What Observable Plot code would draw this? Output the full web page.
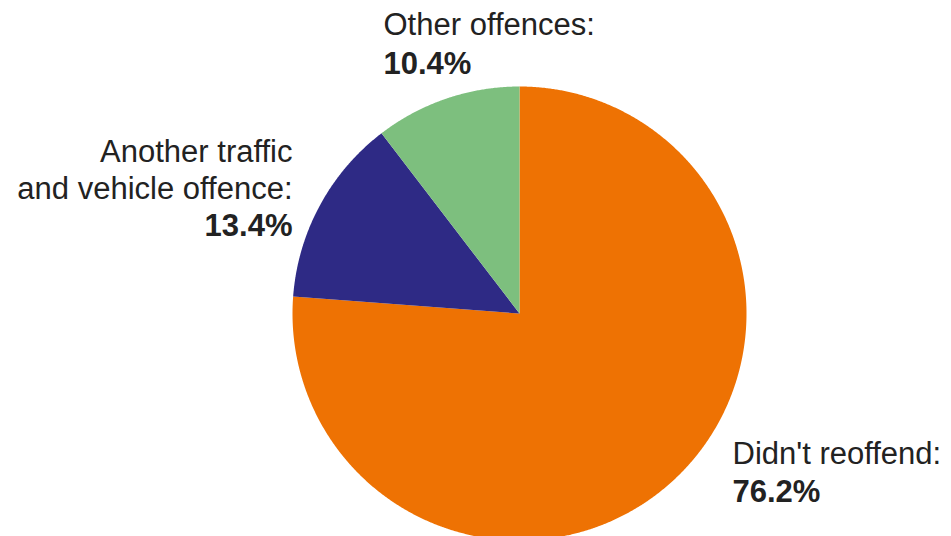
<!DOCTYPE html>
<html>
<head>
<meta charset="utf-8">
<script src="https://cdn.jsdelivr.net/npm/d3@7"></script>
<script src="https://cdn.jsdelivr.net/npm/@observablehq/plot@0.6"></script>
<style>
  html, body { margin: 0; padding: 0; background: #fff; }
  #chart { width: 951px; height: 536px; }
</style>
</head>
<body>
<div id="chart"></div>
<script>
const categories = ["Didn't reoffend", "Another traffic and vehicle offence", "Other offences"];
const labelLines = [["Didn't reoffend:"], ["Another traffic", "and vehicle offence:"], ["Other offences:"]];
const values = [76.2, 13.4, 10.4];
const colors = ["#EE7203", "#2E2A85", "#7DBF7E"];

const W = 951, H = 536;
const cx = 519, cy = 313, R = 227;
// data coordinates: unit circle radius 1
const toX = px => (px - cx) / R;
const toY = py => (cy - py) / R;

const pie = d3.pie().sort(null).value(d => d)(values);

// polygon points for each slice (angle 0 = 12 o'clock, clockwise)
const slicePts = [];
pie.forEach((a, i) => {
  const n = Math.max(8, Math.ceil((a.endAngle - a.startAngle) / 0.005));
  slicePts.push({cat: categories[i], x: 0, y: 0});
  for (let k = 0; k <= n; k++) {
    const t = a.startAngle + (a.endAngle - a.startAngle) * k / n;
    slicePts.push({cat: categories[i], x: Math.sin(t), y: Math.cos(t)});
  }
  slicePts.push({cat: categories[i], x: 0, y: 0});
});

// label placement derived from slice geometry
const ang = pie.map(a => ({s: a.startAngle, e: a.endAngle}));
const edgeX = t => cx + R * Math.sin(t);
const labels = [];
const pct = v => v.toFixed(1) + "%";
// Other offences: left-aligned at start of green slice, above the pie
labels.push({text: labelLines[2][0], px: edgeX(ang[2].s) + 2, py: 25, bold: false, anchor: "start"});
labels.push({text: pct(values[2]), px: edgeX(ang[2].s) + 2, py: 64, bold: true, anchor: "start"});
// Another traffic: right-aligned to the left of the pie
const bx = cx - R - 227 + 272; // right edge near 292
labels.push({text: labelLines[1][0], px: 292, py: 152, bold: false, anchor: "end"});
labels.push({text: labelLines[1][1], px: 292, py: 189, bold: false, anchor: "end"});
labels.push({text: pct(values[1]), px: 292, py: 226, bold: true, anchor: "end"});
// Didn't reoffend: left-aligned bottom right
labels.push({text: labelLines[0][0], px: 732, py: 454, bold: false, anchor: "start"});
labels.push({text: pct(values[0]), px: 732, py: 492, bold: true, anchor: "start"});
labels.forEach(d => { d.x = toX(d.px); d.y = toY(d.py); });

const plot = Plot.plot({
  width: W,
  height: H,
  margin: 0,
  x: {domain: [toX(0), toX(W)], axis: null},
  y: {domain: [toY(H), toY(0)], axis: null},
  color: {domain: categories, range: colors},
  style: {fontFamily: "'Liberation Sans', Arial, sans-serif", background: "#fff"},
  marks: [
    Plot.line(slicePts, {x: "x", y: "y", z: "cat", fill: "cat", stroke: "none", curve: "linear"}),
    Plot.text(labels.filter(d => !d.bold && d.anchor === "start"), {x: "x", y: "y", text: "text", textAnchor: "start", fontSize: 31, fill: "#222"}),
    Plot.text(labels.filter(d => !d.bold && d.anchor === "end"), {x: "x", y: "y", text: "text", textAnchor: "end", fontSize: 31, fill: "#222"}),
    Plot.text(labels.filter(d => d.bold && d.anchor === "start"), {x: "x", y: "y", text: "text", textAnchor: "start", fontSize: 31, fontWeight: "bold", fill: "#222"}),
    Plot.text(labels.filter(d => d.bold && d.anchor === "end"), {x: "x", y: "y", text: "text", textAnchor: "end", fontSize: 31, fontWeight: "bold", fill: "#222"})
  ]
});
document.getElementById("chart").appendChild(plot);
</script>
</body>
</html>
